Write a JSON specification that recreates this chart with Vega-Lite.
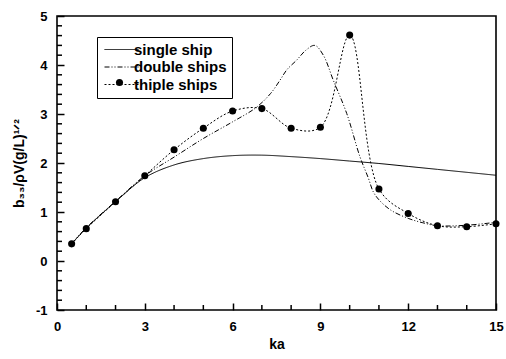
{
  "$schema": "https://vega.github.io/schema/vega-lite/v6.json",
  "width": 439,
  "height": 294,
  "autosize": {"type": "none"},
  "padding": {"left": 57, "top": 16, "right": 10, "bottom": 49},
  "config": {
    "view": {"stroke": "black", "strokeWidth": 1.6},
    "axis": {
      "domain": false,
      "labelColor": "black",
      "labelFontWeight": "bold",
      "labelFontSize": 13,
      "titleFontWeight": "bold",
      "titleColor": "black",
      "grid": false,
      "labelFlush": false
    }
  },
  "datasets": {
    "lines": [
      {"series": "single ship", "ka": 0.5, "b": 0.35},
      {"series": "single ship", "ka": 1, "b": 0.67},
      {"series": "single ship", "ka": 2, "b": 1.21},
      {"series": "single ship", "ka": 3, "b": 1.70},
      {"series": "single ship", "ka": 4, "b": 1.96},
      {"series": "single ship", "ka": 5, "b": 2.09},
      {"series": "single ship", "ka": 6, "b": 2.15},
      {"series": "single ship", "ka": 7, "b": 2.16},
      {"series": "single ship", "ka": 8, "b": 2.13},
      {"series": "single ship", "ka": 9, "b": 2.09},
      {"series": "single ship", "ka": 10, "b": 2.04},
      {"series": "single ship", "ka": 11, "b": 1.99},
      {"series": "single ship", "ka": 12, "b": 1.93},
      {"series": "single ship", "ka": 13, "b": 1.87},
      {"series": "single ship", "ka": 14, "b": 1.81},
      {"series": "single ship", "ka": 15, "b": 1.75},
      {"series": "double ships", "ka": 0.5, "b": 0.36},
      {"series": "double ships", "ka": 1, "b": 0.68},
      {"series": "double ships", "ka": 2, "b": 1.22},
      {"series": "double ships", "ka": 3, "b": 1.74},
      {"series": "double ships", "ka": 4, "b": 2.12},
      {"series": "double ships", "ka": 5, "b": 2.5},
      {"series": "double ships", "ka": 6, "b": 2.84},
      {"series": "double ships", "ka": 6.8, "b": 3.13},
      {"series": "double ships", "ka": 7.3, "b": 3.42},
      {"series": "double ships", "ka": 7.62, "b": 3.69},
      {"series": "double ships", "ka": 7.85, "b": 3.9},
      {"series": "double ships", "ka": 8.19, "b": 4.1},
      {"series": "double ships", "ka": 8.5, "b": 4.3},
      {"series": "double ships", "ka": 8.81, "b": 4.4},
      {"series": "double ships", "ka": 9.1, "b": 4.2},
      {"series": "double ships", "ka": 9.44, "b": 3.69},
      {"series": "double ships", "ka": 9.9, "b": 3.01},
      {"series": "double ships", "ka": 10.35, "b": 2.13},
      {"series": "double ships", "ka": 10.64, "b": 1.69},
      {"series": "double ships", "ka": 10.8, "b": 1.42},
      {"series": "double ships", "ka": 11.0, "b": 1.25},
      {"series": "double ships", "ka": 11.4, "b": 1.04},
      {"series": "double ships", "ka": 12, "b": 0.87},
      {"series": "double ships", "ka": 12.5, "b": 0.78},
      {"series": "double ships", "ka": 13, "b": 0.72},
      {"series": "double ships", "ka": 14, "b": 0.73},
      {"series": "double ships", "ka": 15, "b": 0.79},
      {"series": "thiple ships", "ka": 0.5, "b": 0.35},
      {"series": "thiple ships", "ka": 1, "b": 0.66},
      {"series": "thiple ships", "ka": 2, "b": 1.21},
      {"series": "thiple ships", "ka": 3, "b": 1.74},
      {"series": "thiple ships", "ka": 4, "b": 2.27},
      {"series": "thiple ships", "ka": 5, "b": 2.71},
      {"series": "thiple ships", "ka": 6, "b": 3.06},
      {"series": "thiple ships", "ka": 7, "b": 3.11},
      {"series": "thiple ships", "ka": 8, "b": 2.71},
      {"series": "thiple ships", "ka": 9, "b": 2.73},
      {"series": "thiple ships", "ka": 10, "b": 4.61},
      {"series": "thiple ships", "ka": 11, "b": 1.47},
      {"series": "thiple ships", "ka": 12, "b": 0.97},
      {"series": "thiple ships", "ka": 13, "b": 0.72},
      {"series": "thiple ships", "ka": 14, "b": 0.70},
      {"series": "thiple ships", "ka": 15, "b": 0.76}
    ],
    "markers": [
      {"series": "thiple ships", "ka": 0.5, "b": 0.35},
      {"series": "thiple ships", "ka": 1, "b": 0.66},
      {"series": "thiple ships", "ka": 2, "b": 1.21},
      {"series": "thiple ships", "ka": 3, "b": 1.74},
      {"series": "thiple ships", "ka": 4, "b": 2.27},
      {"series": "thiple ships", "ka": 5, "b": 2.71},
      {"series": "thiple ships", "ka": 6, "b": 3.06},
      {"series": "thiple ships", "ka": 7, "b": 3.11},
      {"series": "thiple ships", "ka": 8, "b": 2.71},
      {"series": "thiple ships", "ka": 9, "b": 2.73},
      {"series": "thiple ships", "ka": 10, "b": 4.61},
      {"series": "thiple ships", "ka": 11, "b": 1.47},
      {"series": "thiple ships", "ka": 12, "b": 0.97},
      {"series": "thiple ships", "ka": 13, "b": 0.72},
      {"series": "thiple ships", "ka": 14, "b": 0.70},
      {"series": "thiple ships", "ka": 15, "b": 0.76}
    ],
    "xminor": [
      {"ka": 1}, {"ka": 2}, {"ka": 4}, {"ka": 5}, {"ka": 7},
      {"ka": 8}, {"ka": 10}, {"ka": 11}, {"ka": 13}, {"ka": 14}
    ],
    "yminor": [
      {"b": -0.8}, {"b": -0.6}, {"b": -0.4}, {"b": -0.2},
      {"b": 0.2}, {"b": 0.4}, {"b": 0.6}, {"b": 0.8},
      {"b": 1.2}, {"b": 1.4}, {"b": 1.6}, {"b": 1.8},
      {"b": 2.2}, {"b": 2.4}, {"b": 2.6}, {"b": 2.8},
      {"b": 3.2}, {"b": 3.4}, {"b": 3.6}, {"b": 3.8},
      {"b": 4.2}, {"b": 4.4}, {"b": 4.6}, {"b": 4.8}
    ]
  },
  "layer": [
    {
      "data": {"name": "lines"},
      "mark": {"type": "line", "interpolate": "catmull-rom", "strokeWidth": 1, "color": "black"},
      "encoding": {
        "x": {
          "field": "ka", "type": "quantitative",
          "scale": {"domain": [0, 15], "nice": false, "zero": false},
          "axis": {
            "title": "ka",
            "titleFontSize": 14,
            "titlePadding": 4,
            "values": [0, 3, 6, 9, 12, 15],
            "tickSize": -7,
            "tickColor": "black",
            "tickWidth": 1.5,
            "labelPadding": 17
          }
        },
        "y": {
          "field": "b", "type": "quantitative",
          "scale": {"domain": [-1, 5], "nice": false, "zero": false},
          "axis": {
            "title": "b₃₃/ρV(g/L)¹ᐟ²",
            "titleFontSize": 14,
            "titlePadding": 9,
            "values": [-1, 0, 1, 2, 3, 4, 5],
            "labelExpr": "toString(datum.value)",
            "tickSize": -7,
            "tickColor": "black",
            "tickWidth": 1.5,
            "labelPadding": 17
          }
        },
        "strokeDash": {
          "field": "series", "type": "nominal",
          "scale": {"domain": ["single ship", "double ships", "thiple ships"], "range": [[1, 0], [5, 2, 1, 2, 1, 2], [2, 2]]},
          "legend": {
            "title": null,
            "orient": "none",
            "legendX": 40,
            "legendY": 21,
            "symbolType": "M-3.4,0H3.4",
            "symbolSize": 100,
            "symbolOffset": 12,
            "symbolStrokeColor": "black",
            "symbolStrokeWidth": 1,
            "labelFontSize": 15,
            "labelFontWeight": "bold",
            "labelColor": "black",
            "labelOffset": 5,
            "padding": 5,
            "rowPadding": 1.5,
            "strokeColor": "black"
          }
        }
      }
    },
    {
      "data": {"name": "markers"},
      "mark": {"type": "point", "filled": true, "color": "black", "size": 50, "opacity": 1},
      "encoding": {
        "x": {"field": "ka", "type": "quantitative"},
        "y": {"field": "b", "type": "quantitative"},
        "shape": {
          "field": "series", "type": "nominal",
          "scale": {"range": ["circle"]},
          "legend": {
            "title": null,
            "orient": "none",
            "legendX": 58,
            "legendY": 62,
            "padding": 0,
            "symbolSize": 50,
            "symbolFillColor": "black",
            "symbolStrokeColor": "black",
            "symbolOpacity": 1,
            "labelFontSize": 1,
            "labelOpacity": 0,
            "labelOffset": 0
          }
        }
      }
    },
    {
      "data": {"name": "xminor"},
      "mark": {"type": "tick", "orient": "vertical", "size": 5, "thickness": 1.5, "color": "black", "opacity": 1, "yOffset": -2.5},
      "encoding": {
        "x": {"field": "ka", "type": "quantitative"},
        "y": {"datum": -1, "type": "quantitative"}
      }
    },
    {
      "data": {"name": "yminor"},
      "mark": {"type": "tick", "orient": "horizontal", "size": 5, "thickness": 1.5, "color": "black", "opacity": 1, "xOffset": 2.5},
      "encoding": {
        "x": {"datum": 0, "type": "quantitative"},
        "y": {"field": "b", "type": "quantitative"}
      }
    }
  ]
}
